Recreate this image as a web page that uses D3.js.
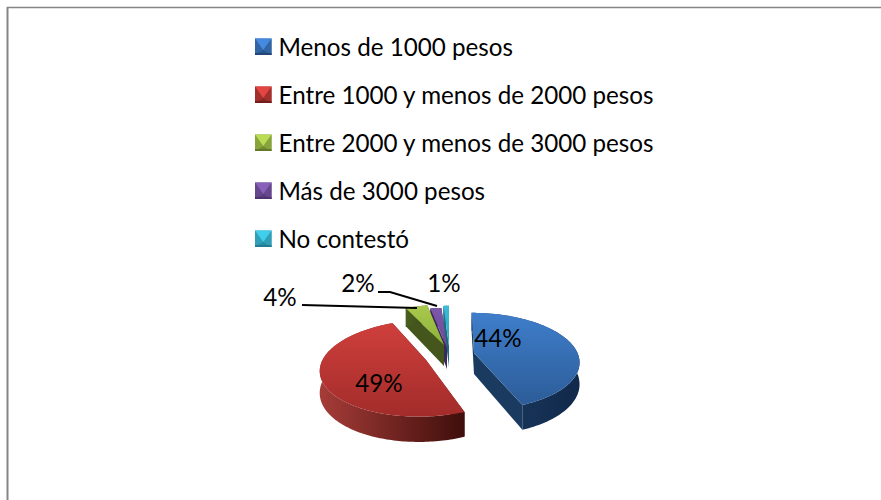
<!DOCTYPE html>
<html><head><meta charset="utf-8">
<script src="https://cdn.jsdelivr.net/npm/d3@7"></script>
<style>html,body{margin:0;background:#fff}svg{display:block}text{font-family:Lato,"Open Sans",sans-serif;fill:#000}</style>
</head><body><svg id="c" width="881" height="500"></svg>
<script>
const categories = ["Menos de 1000 pesos","Entre 1000 y menos de 2000 pesos","Entre 2000 y menos de 3000 pesos","Más de 3000 pesos","No contestó"];
const values = [44,49,4,2,1];
const valueLabels = ["44%","49%","4%","2%","1%"];
const topLight = ["#3f7ecb","#cf3f3c","#a9c94d","#7c58aa","#3bbcd8"];
const topDark  = ["#2c5c98","#a22c2a","#8db03a","#6a4896","#2ea3bf"];
const wallLight= ["#1b3d64","#a63c38","#4a5e20","#40295f","#1d7288"];
const wallDark = ["#11294a","#3f0e0b","#3c4c18","#33204d","#175a6c"];
const cutColor = ["#1a3a60","#5a1512","#44561c","#3d2a5c","#1b6c80"];
const apexX = [474,426,444,447,449];
const apexY = [353,360,345,348,346];
const sliceSkew = [0.06,-0.13,0,0,0];
const labelX = [498,379,280,358,444];
const labelY = [338,383,297,283,283];
const leaders = [null,null,[[302,305],[417,308]],[[378,292],[390,292],[437,306]],null];

const svg = d3.select("#c");
const defs = svg.append("defs");
categories.forEach((c,i)=>{
  const g1=defs.append("linearGradient").attr("id","t"+i).attr("x1",0).attr("y1",0).attr("x2",0).attr("y2",1);
  g1.append("stop").attr("offset",0).attr("stop-color",topLight[i]);
  g1.append("stop").attr("offset",1).attr("stop-color",topDark[i]);
  const g2=defs.append("linearGradient").attr("id","w"+i).attr("x1",0).attr("y1",0).attr("x2",1).attr("y2",0);
  g2.append("stop").attr("offset",0).attr("stop-color",wallLight[i]);
  g2.append("stop").attr("offset",1).attr("stop-color",wallDark[i]);
});

// frame
svg.append("line").attr("x1",7).attr("y1",7.5).attr("x2",881).attr("y2",7.5).attr("stroke","#868686").attr("stroke-width",1.5);
svg.append("line").attr("x1",7.5).attr("y1",7).attr("x2",7.5).attr("y2",500).attr("stroke","#868686").attr("stroke-width",2);

// legend
const rowY = d3.scalePoint().domain(categories).range([47,239]);
const sw=16.5;
const leg = svg.append("g").selectAll("g").data(categories).join("g")
  .attr("transform",d=>`translate(255,${rowY(d)-8.5})`);
leg.each(function(d,i){
  const g=d3.select(this), s=sw;
  const poly=(pts,fill)=>g.append("polygon").attr("points",pts.map(p=>p.join(",")).join(" ")).attr("fill",fill);
  const mix=d3.interpolateRgb(topLight[i],wallDark[i]);
  poly([[0,0],[s,0],[s,s],[0,s]],mix(0.35));
  poly([[0,s],[s/2,s*0.7],[s,s]],mix(0.5));
  poly([[0,0],[s/2,s*0.7],[0,s]],mix(0.3));
  poly([[s,0],[s/2,s*0.7],[s,s]],mix(0.3));
  poly([[0,0],[s,0],[s/2,s*0.7]],d3.color(topLight[i]).brighter(0.25).formatHex());
  poly([[0,s-2],[s,s-2],[s,s],[0,s]],mix(0.65));
});
svg.append("g").selectAll("text").data(categories).join("text")
  .attr("x",278.5).attr("y",d=>rowY(d)+8.5).attr("font-size",24.2)
  .text(d=>d);

// pie
const arcs = d3.pie().sort(null)(values);
const R=103.5, Ry=47, K=0.17, depth=21;
const proj=(a,i,down)=>{
  const u=Math.sin(a), v=-Math.cos(a), s=1/(1-K*v);
  const dy=Ry*v*s;
  return [apexX[i]+R*u*s+sliceSkew[i]*dy, apexY[i]+dy+(down?depth*s:0)];
};
const line=d3.line();
const stepArc=(a0,a1)=>{const n=Math.max(2,Math.ceil((a1-a0)/0.02));return d3.range(n+1).map(k=>a0+(a1-a0)*k/n);};
const order=[4,3,2,0,1];
const pieG=svg.append("g");
order.forEach(i=>{
  const a=arcs[i], g=pieG.append("g");
  const top=stepArc(a.startAngle,a.endAngle);
  const rimT=top.map(t=>proj(t,i,false)), rimB=top.map(t=>proj(t,i,true));
  const apexT=[apexX[i],apexY[i]], apexB=[apexX[i],apexY[i]+depth];
  [a.startAngle,a.endAngle].forEach(t=>{
    g.append("path").attr("d",line([apexT,proj(t,i,false),proj(t,i,true),apexB])+"Z").attr("fill",cutColor[i]);
  });
  g.append("path").attr("d",line(rimT.concat(rimB.slice().reverse()))+"Z").attr("fill",`url(#w${i})`);
  g.append("path").attr("d",line([apexT].concat(rimT))+"Z").attr("fill",`url(#t${i})`);
});

// leaders
leaders.forEach(l=>{ if(l) svg.append("path").attr("d",line(l)).attr("fill","none").attr("stroke","#000").attr("stroke-width",2); });

// value labels
svg.append("g").selectAll("text").data(valueLabels).join("text")
  .attr("x",(d,i)=>labelX[i]).attr("y",(d,i)=>labelY[i]+8.5)
  .attr("text-anchor","middle").attr("font-size",24.2).text(d=>d);
</script></body></html>
